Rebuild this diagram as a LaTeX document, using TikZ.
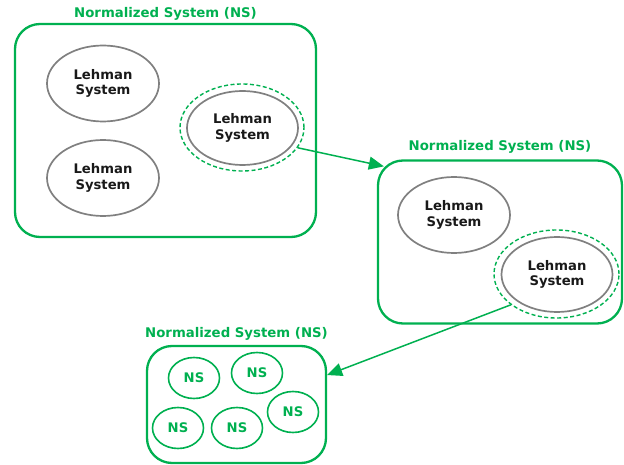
\documentclass[tikz,border=0pt]{standalone}
\usepackage{fontspec}
\setmainfont{DejaVu Sans}
\usepackage{tikz}
\usetikzlibrary{
  positioning,
  arrows.meta,
  shapes.geometric
}
\definecolor{nsgreen}{RGB}{0,176,80}
\definecolor{lsgray}{RGB}{128,128,128}
\tikzstyle{nsbox}=[draw=nsgreen, line width=2.3pt, rounded corners=25pt]
\tikzstyle{nstitle}=[text=nsgreen, font=\bfseries\fontsize{13.3}{15}\selectfont, inner sep=2pt]
\tikzstyle{lehman}=[ellipse, draw=lsgray, line width=1.7pt, minimum width=112pt, minimum height=76pt,
  inner sep=0pt, align=center, text=black!90, font=\bfseries\fontsize{13.2}{15.5}\selectfont]
\tikzstyle{focus}=[ellipse, draw=nsgreen, dash pattern=on 4pt off 2.5pt, line width=1.4pt,
  minimum width=124pt, minimum height=87pt]
\tikzstyle{nsnode}=[ellipse, draw=nsgreen, line width=1.6pt, minimum width=51pt, minimum height=41pt,
  inner sep=0pt, text=nsgreen, font=\bfseries\fontsize{13.2}{15}\selectfont]
\tikzstyle{link}=[-{Triangle[length=15pt,width=13pt]}, draw=nsgreen, line width=1.5pt]

\begin{document}
\begin{tikzpicture}[x=1pt, y=-1pt]
    \useasboundingbox (0,0) rectangle (624,465);

    % 一つ目のNS
    \node[nsbox, minimum width=301pt, minimum height=213pt] (box1) at (165.5,130.5) {};
    \node[nstitle, above=0pt of box1] (title1) {Normalized System (NS)};
    \node[lehman] (ls1) at (103,83.5) {Lehman\\System};
    \node[lehman] (ls2) at (103,178) {Lehman\\System};
    \node[lehman, minimum width=111pt, minimum height=74pt] (ls3) at (242.5,128) {Lehman\\System};
    \node[focus] (d1) at (242,127.5) {};

    % 二つ目のNS
    \node[nsbox, minimum width=244pt, minimum height=163pt] (box2) at (500,242) {};
    \node[nstitle, above=4pt of box2] (title2) {Normalized System (NS)};
    \node[lehman] (ls4) at (454,215) {Lehman\\System};
    \node[lehman, minimum width=111pt, minimum height=75pt] (ls5) at (557,274.5) {Lehman\\System};
    \node[focus, minimum width=125pt, minimum height=88pt] (d2) at (556.5,274) {};

    % 三つ目のNS
    \node[nsbox, minimum width=179pt, minimum height=117pt] (box3) at (236.5,404.5) {};
    \node[nstitle, above=2pt of box3] (title3) {Normalized System (NS)};
    \node[nsnode] (ns1) at (194,378) {NS};
    \node[nsnode] (ns2) at (257,373) {NS};
    \node[nsnode] (ns3) at (178,428) {NS};
    \node[nsnode] (ns4) at (237,428) {NS};
    \node[nsnode] (ns5) at (293,412) {NS};

    % 矢印
    \coordinate (in2) at ([shift={(7,7)}]box2.north west);
    \draw[link] (d1.-20) -- (in2);
    \draw[link] (d2.214) -- (box3.18);
\end{tikzpicture}
\end{document}
